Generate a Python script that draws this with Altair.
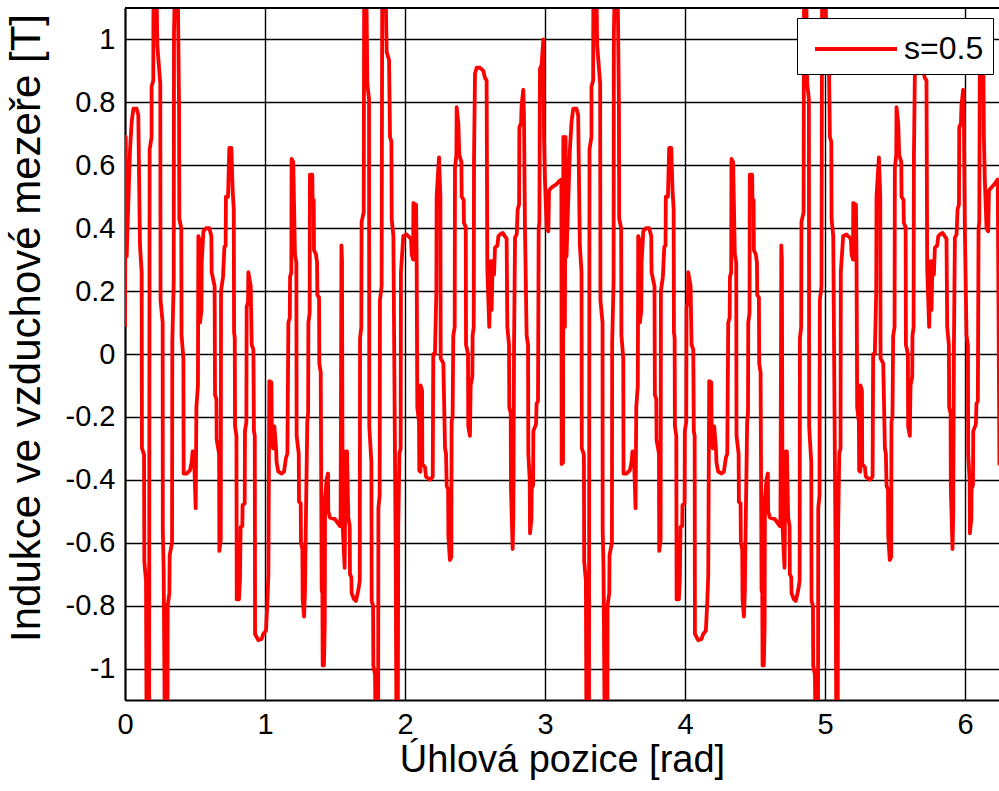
import altair as alt
import pandas as pd

# ---- data (x in rad, y in T) ----
x_first = [
    0.000, 0.005, 0.012, 0.017, 0.036, 0.048, 0.060, 0.083, 0.095, 0.107,
    0.119, 0.121, 0.136, 0.138, 0.150, 0.155, 0.172, 0.174, 0.176, 0.190,
    0.190, 0.202, 0.204, 0.221, 0.231, 0.252, 0.254, 0.269, 0.270, 0.276,
    0.286, 0.303, 0.305, 0.317, 0.319, 0.336, 0.338, 0.348, 0.350, 0.362,
    0.374, 0.386, 0.388, 0.402, 0.404, 0.417, 0.419, 0.440, 0.464, 0.476,
    0.483, 0.493, 0.505, 0.510, 0.521, 0.524, 0.533, 0.536, 0.546, 0.548,
    0.560, 0.579, 0.602, 0.617, 0.619, 0.640, 0.643, 0.653, 0.655, 0.672,
    0.674, 0.684, 0.686, 0.700, 0.710, 0.719, 0.721, 0.736, 0.745, 0.760,
    0.769, 0.777, 0.779, 0.784, 0.786, 0.796, 0.798, 0.814, 0.821, 0.826,
    0.838, 0.840, 0.855, 0.857, 0.867, 0.869, 0.879, 0.881, 0.898, 0.905,
    0.917, 0.921, 0.927, 0.929, 0.952, 0.976, 0.988, 1.007, 1.017, 1.024,
    1.031, 1.046, 1.048, 1.057, 1.067, 1.079, 1.083, 1.095, 1.119, 1.136,
    1.150, 1.160, 1.167, 1.177, 1.179, 1.188, 1.190, 1.202, 1.214, 1.224,
    1.226, 1.241, 1.243, 1.255, 1.257, 1.267, 1.269, 1.279, 1.286, 1.288,
    1.302, 1.308, 1.310, 1.319, 1.321, 1.338, 1.340, 1.348, 1.350, 1.364,
    1.372, 1.374, 1.386, 1.388, 1.398, 1.405, 1.410, 1.412, 1.421, 1.427,
    1.429, 1.440, 1.450, 1.452, 1.464, 1.500, 1.524, 1.536, 1.540, 1.546,
    1.550, 1.555, 1.569, 1.576, 1.586, 1.595, 1.605, 1.607, 1.617, 1.619,
    1.636, 1.650, 1.667, 1.677, 1.679, 1.688, 1.690, 1.705, 1.709, 1.721,
    1.731, 1.743, 1.745, 1.760, 1.762, 1.772, 1.774, 1.786, 1.793, 1.808,
    1.810, 1.819, 1.821, 1.833, 1.838, 1.857, 1.869, 1.886, 1.893, 1.903,
    1.905, 1.917, 1.933, 1.940, 1.948, 1.952, 1.960, 1.969, 1.971, 1.988,
    2.012, 2.043, 2.048, 2.058, 2.060, 2.079, 2.083, 2.088, 2.100, 2.102,
    2.110, 2.112, 2.122, 2.124, 2.143, 2.150, 2.179, 2.198, 2.202, 2.214,
    2.224, 2.226, 2.243, 2.253, 2.255, 2.274, 2.286, 2.293, 2.298, 2.308,
    2.310, 2.321, 2.331, 2.333, 2.340, 2.345, 2.355, 2.357, 2.367, 2.369,
    2.381, 2.388, 2.403, 2.405, 2.419, 2.421, 2.434, 2.436, 2.450, 2.452,
    2.464, 2.469, 2.481, 2.483, 2.491, 2.493, 2.500, 2.512, 2.536, 2.560,
    2.571, 2.583, 2.588, 2.602, 2.607, 2.612, 2.619, 2.626, 2.636, 2.643,
    2.660, 2.667, 2.679, 2.698, 2.714, 2.726, 2.731, 2.743, 2.745, 2.755,
    2.757, 2.769, 2.774, 2.779, 2.786, 2.798, 2.805, 2.815, 2.817, 2.829,
    2.833, 2.845, 2.850, 2.857, 2.869, 2.879, 2.881, 2.891, 2.893, 2.903,
    2.905, 2.915, 2.917, 2.936, 2.940, 2.950, 2.955, 2.960, 2.964, 2.976,
    2.988, 2.993, 3.000, 3.012, 3.024, 3.029, 3.048, 3.083, 3.102, 3.117,
    3.119, 3.129, 3.131,
]
y_first = [
    0.086, 0.69, 0.31, 0.39, 0.65, 0.74, 0.78, 0.78, 0.76, 0.345,
    0.26, -0.30, -0.32, -0.66, -0.72, -1.3, -1.3, -0.245, 0.65, 0.69,
    0.85, 0.87, 1.3, 1.3, 0.98, 0.86, 0.17, 0.10, -0.56, -0.68,
    -1.3, -1.3, -0.80, -0.76, -0.64, -0.60, 0.04, 0.23, 1.02, 1.3,
    1.3, 0.79, 0.43, 0.40, 0.06, -0.014, -0.38, -0.38, -0.37, -0.345,
    -0.31, -0.32, -0.49, -0.17, -0.10, 0.375, 0.36, 0.10, 0.14, 0.29,
    0.39, 0.40, 0.40, 0.375, 0.26, 0.216, -0.13, -0.144, -0.273, -0.317,
    -0.626, -0.59, 0.20, 0.245, 0.34, 0.345, 0.50, 0.50, 0.655, 0.655,
    0.52, 0.46, 0.07, 0.05, -0.23, -0.26, -0.78, -0.78, -0.72, -0.55,
    -0.547, -0.48, -0.475, -0.245, -0.216, 0.15, 0.165, 0.26, 0.216, 0.03,
    0.014, -0.245, -0.26, -0.89, -0.91, -0.906, -0.89, -0.88, -0.79, -0.705,
    -0.086, -0.09, -0.216, -0.30, -0.23, -0.30, -0.345, -0.374, -0.38, -0.374,
    -0.33, -0.317, 0.10, 0.115, 0.245, 0.26, 0.62, 0.61, 0.317, 0.29,
    -0.26, -0.317, -0.47, -0.475, -0.60, -0.62, -0.78, -0.835, -0.75, -0.66,
    -0.216, -0.187, 0.10, 0.13, 0.57, 0.57, 0.49, 0.49, 0.33, 0.317,
    0.29, 0.187, 0.18, -0.03, -0.058, -0.75, -0.76, -0.99, -0.99, -0.86,
    -0.46, -0.40, -0.38, -0.50, -0.52, -0.525, -0.54, -0.547, -0.52, 0.345,
    0.30, -0.55, -0.68, -0.31, -0.31, -0.52, -0.547, -0.70, -0.71, -0.76,
    -0.78, -0.785, -0.75, -0.72, 0.05, 0.086, 0.42, 0.45, 1.3, 1.3,
    0.86, 0.81, -0.23, -0.345, -0.785, -0.80, -0.99, -1.02, -1.3, -1.3,
    -0.49, -0.45, 0.17, 0.216, 1.3, 1.3, 0.96, 0.935, 0.69, 0.675,
    0.43, 0.375, -0.60, -1.3, -1.3, -0.55, -0.317, -0.30, 0.26, 0.375,
    0.38, 0.366, 0.317, 0.30, 0.48, 0.475, 0.317, -0.17, -0.216, -0.37,
    -0.374, -0.10, -0.115, -0.35, -0.36, -0.39, -0.40, -0.39, 0.0, 0.0,
    0.20, 0.50, 0.625, 0.50, -0.014, -0.03, -0.30, -0.317, -0.42, -0.43,
    -0.58, -0.655, -0.645, -0.216, -0.20, 0.058, 0.086, 0.59, 0.633, 0.785,
    0.734, 0.633, 0.61, 0.50, 0.49, 0.417, 0.403, 0.029, 0.0, -0.23,
    -0.26, -0.10, -0.072, 0.058, 0.086, 0.62, 0.892, 0.91, 0.91, 0.90,
    0.878, 0.87, 0.273, 0.086, 0.20, 0.295, 0.14, 0.295, 0.252, 0.338,
    0.345, 0.374, 0.38, 0.385, 0.374, 0.367, 0.086, 0.029, -0.17, -0.187,
    -0.43, -0.62, -0.51, 0.029, 0.37, 0.38, 0.46, 0.475, 0.72, 0.734,
    0.79, 0.84, 0.76, 0.40, 0.058, 0.029, -0.317, -0.40, -0.57, -0.525,
    -0.43, -0.417, -0.245, -0.223, -0.158, -0.15, 0.40, 0.42, 0.906, 0.92,
    1.0, 0.69, 0.55, 0.40, 0.39, 0.52, 0.53, 0.54, 0.55, 0.555,
    -0.35, -0.345, 0.69,
]
x_second = [
    3.142, 3.147, 3.154, 3.159, 3.178, 3.190, 3.202, 3.225, 3.237, 3.249,
    3.261, 3.263, 3.278, 3.280, 3.292, 3.297, 3.314, 3.316, 3.318, 3.332,
    3.332, 3.344, 3.346, 3.363, 3.373, 3.394, 3.396, 3.411, 3.412, 3.418,
    3.428, 3.445, 3.447, 3.459, 3.461, 3.478, 3.480, 3.490, 3.492, 3.504,
    3.516, 3.528, 3.530, 3.544, 3.546, 3.559, 3.561, 3.582, 3.606, 3.618,
    3.625, 3.635, 3.647, 3.652, 3.663, 3.666, 3.675, 3.678, 3.688, 3.690,
    3.702, 3.721, 3.744, 3.759, 3.761, 3.782, 3.785, 3.795, 3.797, 3.814,
    3.816, 3.826, 3.828, 3.842, 3.852, 3.861, 3.863, 3.878, 3.887, 3.902,
    3.911, 3.919, 3.921, 3.926, 3.928, 3.938, 3.940, 3.956, 3.963, 3.968,
    3.980, 3.982, 3.997, 3.999, 4.009, 4.011, 4.021, 4.023, 4.040, 4.047,
    4.059, 4.063, 4.069, 4.071, 4.094, 4.118, 4.130, 4.149, 4.159, 4.166,
    4.173, 4.188, 4.190, 4.199, 4.209, 4.221, 4.225, 4.237, 4.261, 4.278,
    4.292, 4.302, 4.309, 4.319, 4.321, 4.330, 4.332, 4.344, 4.356, 4.366,
    4.368, 4.383, 4.385, 4.397, 4.399, 4.409, 4.411, 4.421, 4.428, 4.430,
    4.444, 4.450, 4.452, 4.461, 4.463, 4.480, 4.482, 4.490, 4.492, 4.506,
    4.514, 4.516, 4.528, 4.530, 4.540, 4.547, 4.552, 4.554, 4.563, 4.569,
    4.571, 4.582, 4.592, 4.594, 4.606, 4.642, 4.666, 4.678, 4.682, 4.688,
    4.692, 4.697, 4.711, 4.718, 4.728, 4.737, 4.747, 4.749, 4.759, 4.761,
    4.778, 4.792, 4.809, 4.819, 4.821, 4.830, 4.832, 4.847, 4.851, 4.863,
    4.873, 4.885, 4.887, 4.902, 4.904, 4.914, 4.916, 4.928, 4.935, 4.950,
    4.952, 4.961, 4.963, 4.975, 4.980, 4.999, 5.011, 5.028, 5.035, 5.045,
    5.047, 5.059, 5.075, 5.082, 5.090, 5.094, 5.102, 5.111, 5.113, 5.130,
    5.154, 5.185, 5.190, 5.200, 5.202, 5.221, 5.225, 5.230, 5.242, 5.244,
    5.252, 5.254, 5.264, 5.266, 5.285, 5.292, 5.321, 5.340, 5.344, 5.356,
    5.366, 5.368, 5.385, 5.395, 5.397, 5.416, 5.428, 5.435, 5.440, 5.450,
    5.452, 5.463, 5.473, 5.475, 5.482, 5.487, 5.497, 5.499, 5.509, 5.511,
    5.523, 5.530, 5.545, 5.547, 5.561, 5.563, 5.576, 5.578, 5.592, 5.594,
    5.606, 5.611, 5.623, 5.625, 5.633, 5.635, 5.642, 5.654, 5.678, 5.702,
    5.713, 5.725, 5.730, 5.744, 5.749, 5.754, 5.761, 5.768, 5.778, 5.785,
    5.802, 5.809, 5.821, 5.840, 5.856, 5.868, 5.873, 5.885, 5.887, 5.897,
    5.899, 5.911, 5.916, 5.921, 5.928, 5.940, 5.947, 5.957, 5.959, 5.971,
    5.975, 5.987, 5.992, 5.999, 6.011, 6.021, 6.023, 6.033, 6.035, 6.045,
    6.047, 6.057, 6.059, 6.078, 6.082, 6.092, 6.097, 6.102, 6.106, 6.118,
    6.130, 6.135, 6.142, 6.154, 6.166, 6.171, 6.190, 6.210, 6.226, 6.234,
    6.246, 6.256, 6.258,
]
y_second = [
    0.086, 0.69, 0.31, 0.39, 0.65, 0.74, 0.78, 0.78, 0.76, 0.345,
    0.26, -0.30, -0.32, -0.66, -0.72, -1.3, -1.3, -0.245, 0.65, 0.69,
    0.85, 0.87, 1.3, 1.3, 0.98, 0.86, 0.17, 0.10, -0.56, -0.68,
    -1.3, -1.3, -0.80, -0.76, -0.64, -0.60, 0.04, 0.23, 1.02, 1.3,
    1.3, 0.79, 0.43, 0.40, 0.06, -0.014, -0.38, -0.38, -0.37, -0.345,
    -0.31, -0.32, -0.49, -0.17, -0.10, 0.375, 0.36, 0.10, 0.14, 0.29,
    0.39, 0.40, 0.40, 0.375, 0.26, 0.216, -0.13, -0.144, -0.273, -0.317,
    -0.626, -0.59, 0.20, 0.245, 0.34, 0.345, 0.50, 0.50, 0.655, 0.655,
    0.52, 0.46, 0.07, 0.05, -0.23, -0.26, -0.78, -0.78, -0.72, -0.55,
    -0.547, -0.48, -0.475, -0.245, -0.216, 0.15, 0.165, 0.26, 0.216, 0.03,
    0.014, -0.245, -0.26, -0.89, -0.91, -0.906, -0.89, -0.88, -0.79, -0.705,
    -0.086, -0.09, -0.216, -0.30, -0.23, -0.30, -0.345, -0.374, -0.38, -0.374,
    -0.33, -0.317, 0.10, 0.115, 0.245, 0.26, 0.62, 0.61, 0.317, 0.29,
    -0.26, -0.317, -0.47, -0.475, -0.60, -0.62, -0.78, -0.835, -0.75, -0.66,
    -0.216, -0.187, 0.10, 0.13, 0.57, 0.57, 0.49, 0.49, 0.33, 0.317,
    0.29, 0.187, 0.18, -0.03, -0.058, -0.75, -0.76, -0.99, -0.99, -0.86,
    -0.46, -0.40, -0.38, -0.50, -0.52, -0.525, -0.54, -0.547, -0.52, 0.345,
    0.30, -0.55, -0.68, -0.31, -0.31, -0.52, -0.547, -0.70, -0.71, -0.76,
    -0.78, -0.785, -0.75, -0.72, 0.05, 0.086, 0.42, 0.45, 1.3, 1.3,
    0.86, 0.81, -0.23, -0.345, -0.785, -0.80, -0.99, -1.02, -1.3, -1.3,
    -0.49, -0.45, 0.17, 0.216, 1.3, 1.3, 0.96, 0.935, 0.69, 0.675,
    0.43, 0.375, -0.60, -1.3, -1.3, -0.55, -0.317, -0.30, 0.26, 0.375,
    0.38, 0.366, 0.317, 0.30, 0.48, 0.475, 0.317, -0.17, -0.216, -0.37,
    -0.374, -0.10, -0.115, -0.35, -0.36, -0.39, -0.40, -0.39, 0.0, 0.0,
    0.20, 0.50, 0.625, 0.50, -0.014, -0.03, -0.30, -0.317, -0.42, -0.43,
    -0.58, -0.655, -0.645, -0.216, -0.20, 0.058, 0.086, 0.59, 0.633, 0.785,
    0.734, 0.633, 0.61, 0.50, 0.49, 0.417, 0.403, 0.029, 0.0, -0.23,
    -0.26, -0.10, -0.072, 0.058, 0.086, 0.62, 0.892, 0.91, 0.91, 0.90,
    0.878, 0.87, 0.273, 0.086, 0.20, 0.295, 0.14, 0.295, 0.252, 0.338,
    0.345, 0.374, 0.38, 0.385, 0.374, 0.367, 0.086, 0.029, -0.17, -0.187,
    -0.43, -0.62, -0.51, 0.029, 0.37, 0.38, 0.46, 0.475, 0.72, 0.734,
    0.79, 0.84, 0.76, 0.40, 0.058, 0.029, -0.317, -0.40, -0.57, -0.525,
    -0.43, -0.417, -0.245, -0.223, -0.158, -0.15, 0.40, 0.42, 0.906, 0.92,
    1.0, 0.69, 0.55, 0.40, 0.39, 0.52, 0.53, 0.54, 0.55, 0.555,
    -0.35, -0.345, 0.69,
]
series_name = "s=0.5"
x_tick_values = [0, 1, 2, 3, 4, 5, 6]
y_tick_values = [-1, -0.8, -0.6, -0.4, -0.2, 0, 0.2, 0.4, 0.6, 0.8, 1]
x_domain = [0, 6.243]
y_domain = [-1.1, 1.1]

x_all = x_first + x_second
y_all = y_first + y_second
df = pd.DataFrame({
    "x": x_all,
    "y": y_all,
    "idx": list(range(len(x_all))),
    "series": [series_name] * len(x_all),
})

FONT = "Liberation Sans"

line = alt.Chart(df).mark_line(
    strokeWidth=3.8, clip=True, strokeJoin="round"
).encode(
    x=alt.X(
        "x:Q",
        scale=alt.Scale(domain=x_domain, nice=False, zero=False),
        axis=alt.Axis(
            values=x_tick_values, title="Úhlová pozice [rad]",
            labelFontSize=29, titleFontSize=38, labelPadding=10, titlePadding=2,
            labelFlush=False, grid=True, gridColor="black", gridWidth=1.4,
            gridOpacity=1, domainColor="black", domainWidth=2, ticks=False,
            labelColor="black", titleColor="black", labelFont=FONT,
            titleFont=FONT, titleFontWeight="normal",
        ),
    ),
    y=alt.Y(
        "y:Q",
        scale=alt.Scale(domain=y_domain, nice=False, zero=False),
        axis=alt.Axis(
            values=y_tick_values, labelExpr="'' + datum.value",
            title="Indukce ve vzduchové mezeře [T]",
            labelFontSize=29, titleFontSize=42, labelPadding=10,
            grid=True, gridColor="black", gridWidth=1.4, gridOpacity=1,
            domainColor="black", domainWidth=2, ticks=False,
            labelColor="black", titleColor="black", labelFont=FONT,
            titleFont=FONT, titleFontWeight="normal",
            titleAngle=270, titleX=-86, titleY=319.5,
            titleBaseline="alphabetic", titleAlign="center",
        ),
    ),
    color=alt.Color(
        "series:N",
        scale=alt.Scale(domain=[series_name], range=["#ff0000"]),
        legend=alt.Legend(
            title=None, orient="none", legendX=672, legendY=10,
            symbolType="M-0.65,0H3.45", symbolSize=1600, symbolStrokeWidth=4,
            labelFontSize=32, labelFont=FONT, labelColor="black",
            labelOffset=54, padding=9, strokeColor="black",
            fillColor="white", cornerRadius=0,
        ),
    ),
    order=alt.Order("idx:Q"),
)

top_frame = alt.Chart(pd.DataFrame({"v": [0]})).mark_rule(
    color="black", strokeWidth=2
).encode(y=alt.datum(y_domain[1]))

chart = alt.layer(line, top_frame).properties(
    width=874,
    height=692,
    padding={"left": 125, "top": 8, "right": 0, "bottom": 91},
    autosize=alt.AutoSizeParams(type="none"),
    background="white",
).configure_view(stroke="transparent")

chart.save("out.html", embed_options={"renderer": "svg", "actions": False})
